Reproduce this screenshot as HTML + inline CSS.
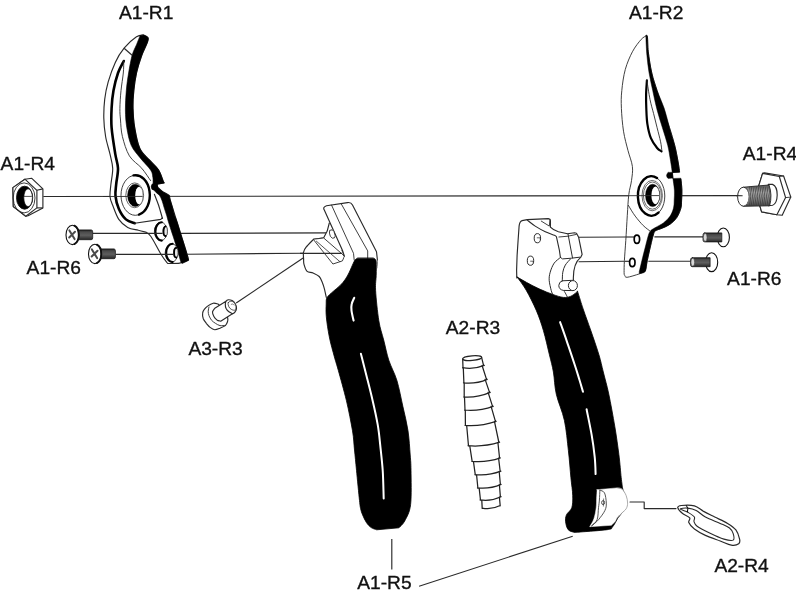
<!DOCTYPE html>
<html><head><meta charset="utf-8"><title>Pruner parts diagram</title>
<style>
html,body{margin:0;padding:0;background:#fff;}
body{width:796px;height:595px;overflow:hidden;position:relative;font-family:"Liberation Sans",sans-serif;}
svg{position:absolute;left:0;top:0;display:block;filter:blur(0.35px)}
#labels{filter:grayscale(1)}
text{font-family:"Liberation Sans",sans-serif;font-size:19.2px;fill:#111;stroke:#111;stroke-width:0.35px}
</style></head><body>
<svg width="796" height="595" viewBox="0 0 796 595">
<defs>
<linearGradient id="scr" x1="0" y1="0" x2="0" y2="1"><stop offset="0" stop-color="#1d1d1d"/><stop offset="0.2" stop-color="#4a4a4a"/><stop offset="0.55" stop-color="#5e5e5e"/><stop offset="0.85" stop-color="#3a3a3a"/><stop offset="1" stop-color="#1d1d1d"/></linearGradient>
<linearGradient id="thr" x1="0" y1="0" x2="0" y2="1"><stop offset="0" stop-color="#555"/><stop offset="0.35" stop-color="#bbb"/><stop offset="0.7" stop-color="#888"/><stop offset="1" stop-color="#444"/></linearGradient>
</defs>
<rect width="796" height="595" fill="#fff"/>
<g id="leaders">
<line x1="43.3" y1="196.5" x2="742.9" y2="195.6" stroke="#2a2a2a" stroke-width="1.15"/>
<line x1="181.0" y1="233.4" x2="329.3" y2="232.9" stroke="#2a2a2a" stroke-width="1.15"/>
<line x1="186.5" y1="254.2" x2="304.0" y2="253.3" stroke="#2a2a2a" stroke-width="1.15"/>
<line x1="236.2" y1="303.0" x2="303.5" y2="257.8" stroke="#2a2a2a" stroke-width="1.15"/>
<line x1="391.8" y1="538.9" x2="391.8" y2="569.5" stroke="#2a2a2a" stroke-width="1.15"/>
<line x1="419.1" y1="586.2" x2="572.7" y2="536.3" stroke="#2a2a2a" stroke-width="1.15"/>
<line x1="578.6" y1="237.2" x2="626.0" y2="237.0" stroke="#2a2a2a" stroke-width="1.15"/>
<line x1="654.4" y1="236.9" x2="703.0" y2="236.9" stroke="#2a2a2a" stroke-width="1.15"/>
<line x1="578.6" y1="261.7" x2="624.6" y2="261.3" stroke="#2a2a2a" stroke-width="1.15"/>
<line x1="648.3" y1="261.2" x2="690.6" y2="261.2" stroke="#2a2a2a" stroke-width="1.15"/>
<path d="M630 502L644.2 502L644.2 508.6L676 508.6" fill="none" stroke="#2a2a2a" stroke-width="1.15" stroke-linejoin="round" stroke-linecap="round" />
</g>
<g id="blade-left">
<path d="M143.6 35.0C142.4 35.3 139.8 34.6 136.5 36.8C133.2 39.0 127.6 43.9 124.1 48.2C120.6 52.5 117.9 56.8 115.3 62.4C112.7 68.0 110.0 75.6 108.2 81.8C106.4 88.0 105.4 93.4 104.7 99.4C104.0 105.4 103.7 111.8 103.8 118.0C103.9 124.2 104.6 130.5 105.6 136.5C106.6 142.5 108.8 148.8 110.0 154.1C111.2 159.4 112.5 163.3 112.7 168.3C112.9 173.3 111.4 179.5 110.9 184.2C110.5 188.9 109.7 193.0 110.0 196.5C110.3 200.0 111.2 201.5 112.7 205.3C114.2 209.1 116.3 215.7 118.8 219.4C121.3 223.1 124.5 225.6 127.7 227.4C131.0 229.2 135.2 229.5 138.3 230.3C141.4 231.1 144.7 231.8 146.0 232.1L146.0 232.1C146.8 232.9 148.5 232.9 151.1 236.7C153.7 240.5 158.5 250.2 161.3 254.7C164.1 259.2 166.6 262.0 167.7 263.5L167.7 263.5C169.7 263.4 176.3 263.6 179.7 263.1C183.1 262.6 186.7 260.8 188.1 260.3L188.1 260.3C188.0 259.7 189.2 261.8 187.7 256.5C186.2 251.2 181.8 237.7 178.9 228.3C176.0 218.9 171.9 205.8 170.3 200.3C168.7 194.8 170.4 196.9 169.1 195.5C167.8 194.1 164.5 192.9 162.7 191.7C160.9 190.4 159.3 189.0 158.4 188.0C157.5 187.0 157.2 185.9 157.0 185.5L157.0 185.5C157.2 185.2 157.0 184.4 158.2 184.0C159.4 183.6 163.2 183.1 164.2 182.9L164.2 182.9C164.0 182.5 163.9 182.8 163.0 180.6C162.1 178.4 160.7 173.2 158.6 170.0C156.5 166.8 153.7 164.7 150.6 161.2C147.5 157.7 142.7 154.4 140.0 148.8C137.3 143.2 135.9 134.5 134.7 127.7C133.5 121.0 133.2 114.5 133.0 108.3C132.8 102.1 133.2 96.5 133.8 90.6C134.4 84.7 135.2 78.9 136.5 73.0C137.8 67.1 140.0 60.3 141.8 55.3C143.6 50.3 146.1 45.9 147.1 43.0C148.1 40.1 148.6 39.0 148.0 37.7C147.4 36.4 144.3 35.5 143.6 35.0Z" fill="#fff" stroke="#2a2a2a" stroke-width="1.15" stroke-linejoin="round" stroke-linecap="round" />
<path d="M143.6 35.0C144.3 35.5 147.4 36.4 148.0 37.7C148.6 39.0 148.1 40.1 147.1 43.0C146.1 45.9 143.6 50.3 141.8 55.3C140.0 60.3 137.8 67.1 136.5 73.0C135.2 78.9 134.4 84.7 133.8 90.6C133.2 96.5 132.8 102.1 133.0 108.3C133.2 114.5 133.5 121.0 134.7 127.7C135.9 134.5 137.3 143.2 140.0 148.8C142.7 154.4 147.5 157.7 150.6 161.2C153.7 164.7 156.5 166.8 158.6 170.0C160.7 173.2 162.1 178.4 163.0 180.6C163.9 182.8 164.0 182.5 164.2 182.9L158.2 184.0C157.4 184.1 154.4 185.6 153.5 184.5C152.6 183.4 153.4 180.0 152.9 177.6C152.4 175.2 152.8 173.3 150.6 170.0C148.4 166.7 143.2 161.8 140.0 157.7C136.8 153.6 133.4 150.3 131.2 145.3C129.0 140.3 127.8 133.6 126.8 127.7C125.8 121.8 125.5 116.2 125.4 110.0C125.3 103.8 125.8 96.8 126.3 90.6C126.8 84.4 127.6 78.9 128.6 73.0C129.6 67.1 130.8 60.0 132.1 55.3C133.4 50.6 135.2 47.9 136.5 44.7C137.8 41.5 139.4 37.4 140.0 35.9Z" fill="#000" stroke="#000" stroke-width="0.6" stroke-linejoin="round" stroke-linecap="round" />
<ellipse cx="154.5" cy="186.7" rx="3.4" ry="3.5" fill="#000" stroke="#000" stroke-width="0.3"/>
<path d="M156.5 186.6C156.8 186.8 157.4 187.2 158.4 188.0C159.4 188.8 160.9 190.4 162.7 191.7C164.5 192.9 168.0 194.9 169.1 195.5L169.1 195.5C169.3 196.3 169.7 198.2 170.3 200.3C170.9 202.4 171.8 205.4 172.5 207.8C173.2 210.2 173.6 212.5 174.4 215.0C175.2 217.5 175.8 217.8 177.5 223.0C179.2 228.2 182.7 240.0 184.5 245.9C186.3 251.8 187.5 256.1 188.1 258.5C188.7 260.9 188.9 259.8 188.0 260.6C187.1 261.4 183.3 262.9 182.4 263.4L181.0 262.6C180.2 259.8 178.2 252.5 176.2 245.9C174.2 239.3 170.4 228.2 168.8 223.0C167.2 217.8 167.3 217.5 166.5 215.0C165.7 212.5 165.0 210.2 164.2 207.8C163.4 205.4 162.7 202.3 161.9 200.3C161.2 198.3 160.6 197.0 159.7 195.7C158.8 194.4 157.4 193.7 156.3 192.7C155.2 191.7 153.9 190.1 153.4 189.6Z" fill="#000" stroke="#000" stroke-width="0.6" stroke-linejoin="round" stroke-linecap="round" />
<line x1="124.1" y1="48.2" x2="132.1" y2="55.3" stroke="#2a2a2a" stroke-width="1.15"/>
<path d="M123.8 61.0C122.8 63.0 119.7 68.1 118.0 73.0C116.3 77.9 114.6 84.7 113.5 90.6C112.4 96.5 111.9 102.1 111.6 108.3C111.3 114.5 111.0 120.1 111.6 127.7C112.2 135.3 114.2 147.3 115.3 154.1C116.4 160.9 117.8 163.3 118.0 168.3C118.2 173.3 116.6 179.6 116.2 184.2C115.8 188.8 115.1 191.9 115.5 196.0C115.9 200.1 117.1 204.9 118.8 208.8C120.5 212.7 123.2 217.0 125.9 219.4C128.6 221.8 133.2 222.6 134.7 223.2" fill="none" stroke="#000" stroke-width="2.6" stroke-linejoin="round" stroke-linecap="round" />
<path d="M123.8 61.0C123.7 63.0 123.8 68.1 123.3 73.0C122.8 77.9 121.6 84.7 121.0 90.6C120.4 96.5 120.0 103.4 119.9 108.3C119.8 113.2 120.1 115.3 120.5 120.0C120.9 124.7 120.9 130.5 122.4 136.5C123.9 142.5 126.2 150.6 129.4 155.9C132.6 161.2 138.3 164.2 141.8 168.3C145.3 172.4 149.1 178.6 150.6 180.6" fill="none" stroke="#2a2a2a" stroke-width="0.9" stroke-linejoin="round" stroke-linecap="round" />
<path d="M134.7 223.2L160.8 219.4L162.2 217.8" fill="none" stroke="#2a2a2a" stroke-width="1.15" stroke-linejoin="round" stroke-linecap="round" />
<path d="M162.5 218.5C161.8 216.3 159.9 209.3 158.6 205.3C157.2 201.3 155.1 196.1 154.4 194.3" fill="none" stroke="#2a2a2a" stroke-width="1.15" stroke-linejoin="round" stroke-linecap="round" />
<ellipse cx="135.3" cy="195.3" rx="14.3" ry="20.0" fill="none" stroke="#2a2a2a" stroke-width="0.9"/>
<path d="M133.5 175.4 A14.3 20 0 0 1 139.0 214.6" fill="none" stroke="#000" stroke-width="2.4" stroke-linejoin="round" stroke-linecap="round" />
<ellipse cx="134.7" cy="195.3" rx="8.9" ry="12.4" fill="none" stroke="#555" stroke-width="0.9"/>
<ellipse cx="135.2" cy="195.3" rx="7.6" ry="11.1" fill="#000" stroke="#000" stroke-width="0.5"/>
<ellipse cx="139.0" cy="195.5" rx="3.8" ry="8.8" fill="#fff" stroke="none" stroke-width="0"/>
<line x1="103.0" y1="196.5" x2="142.6" y2="196.4" stroke="#2a2a2a" stroke-width="0.9"/>
<ellipse cx="160.8" cy="231.4" rx="6.4" ry="9.2" fill="#fff" stroke="#2a2a2a" stroke-width="0.9"/>
<path d="M161.8 222.2 A6.4 9.2 0 0 0 161.8 240.6" fill="none" stroke="#000" stroke-width="2.1" stroke-linejoin="round" stroke-linecap="round" />
<ellipse cx="165.2" cy="231.2" rx="2.2" ry="4.9" fill="#e8e8e8" stroke="#2a2a2a" stroke-width="0.7"/>
<path d="M165.6 226.4 A2.1 4.8 0 0 0 165.6 236.0" fill="none" stroke="#000" stroke-width="1.8" stroke-linejoin="round" stroke-linecap="round" />
<ellipse cx="171.6" cy="252.9" rx="6.4" ry="9.2" fill="#fff" stroke="#2a2a2a" stroke-width="0.9"/>
<path d="M172.6 243.7 A6.4 9.2 0 0 0 172.6 262.1" fill="none" stroke="#000" stroke-width="2.1" stroke-linejoin="round" stroke-linecap="round" />
<ellipse cx="175.8" cy="252.7" rx="2.2" ry="4.9" fill="#e8e8e8" stroke="#2a2a2a" stroke-width="0.7"/>
<path d="M176.2 247.9 A2.1 4.8 0 0 0 176.2 257.5" fill="none" stroke="#000" stroke-width="1.8" stroke-linejoin="round" stroke-linecap="round" />
</g>
<line x1="92.7" y1="233.4" x2="162.6" y2="233.4" stroke="#2a2a2a" stroke-width="1.15"/>
<line x1="115.7" y1="254.3" x2="173.0" y2="254.3" stroke="#2a2a2a" stroke-width="1.15"/>
<g id="nut">
<path d="M24.9 179.2L31.8 178.3L42.9 188.9L42.9 207.9L28.1 215.7L25.8 216.2L13.3 206.5L12.9 187.6Z" fill="#fff" stroke="#2a2a2a" stroke-width="1.15" stroke-linejoin="round" stroke-linecap="round" />
<path d="M12.9 187.6L24.9 179.2L36.9 190.3L36.9 207.9L25.8 216.2L13.3 206.5Z" fill="#fff" stroke="#2a2a2a" stroke-width="1.15" stroke-linejoin="round" stroke-linecap="round" />
<line x1="36.9" y1="190.3" x2="42.9" y2="188.9" stroke="#2a2a2a" stroke-width="1.15"/>
<line x1="36.9" y1="207.9" x2="42.9" y2="207.9" stroke="#2a2a2a" stroke-width="1.15"/>
<ellipse cx="24.1" cy="197.9" rx="10.9" ry="15.0" fill="none" stroke="#2a2a2a" stroke-width="0.9"/>
<ellipse cx="24.6" cy="197.7" rx="8.1" ry="11.5" fill="#000" stroke="#111" stroke-width="0.9"/>
<ellipse cx="28.1" cy="197.7" rx="4.3" ry="8.9" fill="#fff" stroke="#111" stroke-width="0.7"/>
<line x1="23.9" y1="196.4" x2="31.8" y2="196.4" stroke="#2a2a2a" stroke-width="0.8"/>
</g>
<g>
<path d="M76.4 229.9L91.2 229.9Q92.7 229.9 92.7 231.9L92.7 237.9Q92.7 239.7 91.2 239.7L76.4 239.7Z" fill="url(#scr)" stroke="#1c1c1c" stroke-width="0.8" stroke-linejoin="round" stroke-linecap="round" />
<ellipse cx="72.4" cy="234.9" rx="6.4" ry="9.7" fill="#fff" stroke="#111" stroke-width="1.1"/>
<path d="M74.4 225.7 A6.4 9.7 0 0 1 74.4 244.1" fill="none" stroke="#111" stroke-width="1.9" stroke-linejoin="round" stroke-linecap="round" />
<path d="M69.4 230.4L74.6 239.1M75.0 231.7L69.2 237.5" fill="none" stroke="#4a4a4a" stroke-width="2.0" stroke-linejoin="round" stroke-linecap="round" />
</g>
<g>
<path d="M98.9 248.9L113.9 248.9Q115.4 248.9 115.4 250.9L115.4 256.9Q115.4 258.7 113.9 258.7L98.9 258.7Z" fill="url(#scr)" stroke="#1c1c1c" stroke-width="0.8" stroke-linejoin="round" stroke-linecap="round" />
<ellipse cx="94.9" cy="253.9" rx="6.4" ry="9.7" fill="#fff" stroke="#111" stroke-width="1.1"/>
<path d="M96.9 244.7 A6.4 9.7 0 0 1 96.9 263.1" fill="none" stroke="#111" stroke-width="1.9" stroke-linejoin="round" stroke-linecap="round" />
<path d="M91.9 249.4L97.1 258.1M97.5 250.7L91.7 256.5" fill="none" stroke="#4a4a4a" stroke-width="2.0" stroke-linejoin="round" stroke-linecap="round" />
</g>
<g id="bushing">
<path d="M213.2 303.2C211.5 303.6 209.4 304.8 207.9 305.9C206.3 307.0 205.0 308.4 204.1 309.7C203.2 310.9 202.7 311.9 202.6 313.4C202.4 315.0 202.7 317.1 203.3 318.7C204.0 320.4 205.2 321.8 206.3 323.3C207.5 324.7 208.7 326.4 210.1 327.4C211.5 328.5 213.0 329.6 214.7 329.7C216.3 329.8 218.2 328.9 220.0 328.2C221.7 327.5 224.0 326.6 225.3 325.6C226.5 324.5 227.1 323.0 227.5 321.8C227.9 320.5 228.1 319.5 227.7 318.0C227.3 316.5 226.7 314.8 225.3 312.7C223.8 310.5 220.5 306.6 219.2 305.1C217.9 303.7 218.7 304.3 217.7 304.0C216.7 303.7 214.8 302.9 213.2 303.2Z" fill="#fff" stroke="#2a2a2a" stroke-width="1.15" stroke-linejoin="round" stroke-linecap="round" />
<path d="M209.0 307.0C208.9 307.7 208.2 309.7 208.2 311.2C208.2 312.6 208.4 314.2 209.0 315.7C209.6 317.2 210.6 319.0 211.6 320.3C212.7 321.5 214.0 322.4 215.4 323.3C216.8 324.2 218.3 325.2 220.0 325.6C221.6 325.9 224.4 325.4 225.3 325.4" fill="none" stroke="#2a2a2a" stroke-width="0.9" stroke-linejoin="round" stroke-linecap="round" />
<path d="M214.8 308.2C214.4 308.8 212.7 310.5 212.5 311.9C212.4 313.3 213.2 315.2 213.9 316.5C214.6 317.8 215.8 319.1 216.9 319.9C218.1 320.7 220.1 321.0 220.7 321.2L232.8 313.6L226.0 301.3Z" fill="#fff" stroke="#2a2a2a" stroke-width="1.15" stroke-linejoin="round" stroke-linecap="round" />
<path d="M226.0 301.3C226.5 300.6 227.3 300.0 228.3 299.8C229.3 299.7 230.9 300.0 232.1 300.6C233.2 301.2 234.4 302.4 235.1 303.6C235.8 304.9 236.5 306.8 236.5 308.2C236.5 309.5 235.7 311.0 235.1 311.9C234.5 312.8 233.5 313.4 232.8 313.6C232.2 313.8 232.1 313.5 231.3 313.1C230.6 312.7 229.2 312.0 228.3 311.2C227.4 310.4 226.5 309.3 226.0 308.2C225.5 307.0 225.3 305.5 225.3 304.4C225.3 303.2 225.5 302.1 226.0 301.3Z" fill="#fff" stroke="#2a2a2a" stroke-width="1.15" stroke-linejoin="round" stroke-linecap="round" />
<path d="M228.3 302.5C228.7 301.9 229.7 301.4 230.6 301.3C231.4 301.3 232.7 301.3 233.6 302.1C234.5 302.9 235.5 304.6 235.8 305.9C236.2 307.1 236.0 309.0 235.5 309.7C235.0 310.4 233.8 310.3 232.8 310.0C231.9 309.8 230.6 309.0 229.8 308.2C229.0 307.3 228.5 306.1 228.3 305.1C228.0 304.2 227.9 303.1 228.3 302.5Z" fill="#fff" stroke="#2a2a2a" stroke-width="0.8" stroke-linejoin="round" stroke-linecap="round" />
<path d="M231.3 304.4C231.6 304.3 232.4 303.9 232.8 304.0C233.3 304.1 233.8 304.9 234.0 305.1" fill="none" stroke="#555" stroke-width="0.7" stroke-linejoin="round" stroke-linecap="round" />
</g>
<g id="handle-left">
<path d="M329.3 223L327.2 231.1L323.7 237.7L313.6 239.2L313.6 239.2C312.4 240.5 307.8 245.0 306.1 247.2C304.4 249.4 303.9 250.4 303.5 252.3C303.1 254.2 303.5 256.9 303.6 258.9C303.7 260.9 303.4 262.3 304.0 264.4C304.6 266.5 305.6 270.0 307.1 271.4C308.6 272.8 311.1 272.1 313.1 273.0C315.1 273.9 317.6 274.8 319.2 276.5C320.8 278.2 321.6 280.9 322.5 283.0C323.4 285.1 323.8 286.5 324.4 288.9C325.0 291.3 326.0 296.0 326.3 297.4L358 259L345 259L332 228Z" fill="#fff" stroke="none" stroke-width="0" stroke-linejoin="round" stroke-linecap="round" />
<path d="M329.3 223L327.2 231.1L323.7 237.7L313.6 239.2L313.6 239.2C312.4 240.5 307.8 245.0 306.1 247.2C304.4 249.4 303.9 250.4 303.5 252.3C303.1 254.2 303.5 256.9 303.6 258.9C303.7 260.9 303.4 262.3 304.0 264.4C304.6 266.5 305.6 270.0 307.1 271.4C308.6 272.8 311.1 272.1 313.1 273.0C315.1 273.9 317.6 274.8 319.2 276.5C320.8 278.2 321.6 280.9 322.5 283.0C323.4 285.1 323.8 286.5 324.4 288.9C325.0 291.3 326.0 296.0 326.3 297.4" fill="none" stroke="#2a2a2a" stroke-width="1.15" stroke-linejoin="round" stroke-linecap="round" />
<path d="M313.6 239.2L323.7 238L341.9 253.8L344.4 256.3L342.4 260.9L333.3 263.9Z" fill="#fff" stroke="#2a2a2a" stroke-width="0.9" stroke-linejoin="round" stroke-linecap="round" />
<path d="M316.4 241.2L339.8 261.6" fill="none" stroke="#2a2a2a" stroke-width="0.8" stroke-linejoin="round" stroke-linecap="round" />
<path d="M341.9 250.3L344.4 256.3" fill="none" stroke="#2a2a2a" stroke-width="0.8" stroke-linejoin="round" stroke-linecap="round" />
<path d="M326.5 205.8Q322.5 207.2 324.3 210L342.4 250.3L344.4 256.3L344.9 259.5L377.4 259.7L376.5 251.8L352.5 205Q351 202 347.5 202.6Z" fill="#fff" stroke="none" stroke-width="0" stroke-linejoin="round" stroke-linecap="round" />
<path d="M344.4 256.3L342.4 250.3L324.3 210Q322.5 207.2 326.5 205.8L347.5 202.6Q351 202 352.5 205L376.5 251.8L377.4 259.7" fill="none" stroke="#2a2a2a" stroke-width="1.15" stroke-linejoin="round" stroke-linecap="round" />
<path d="M331.5 205L353.5 253.3L354.2 260" fill="none" stroke="#2a2a2a" stroke-width="0.9" stroke-linejoin="round" stroke-linecap="round" />
<path d="M341.2 203.8L367.7 250.9L367.7 258.5" fill="none" stroke="#2a2a2a" stroke-width="0.9" stroke-linejoin="round" stroke-linecap="round" />
<path d="M330.0 230.2Q332.6 228.6 334.0 231.6L335.3 236Q335.0 238.6 332.3 238.2Q329.8 237 329.5 233.5Z" fill="#fff" stroke="#2a2a2a" stroke-width="0.9" stroke-linejoin="round" stroke-linecap="round" />
<line x1="300.0" y1="253.3" x2="341.9" y2="253.3" stroke="#2a2a2a" stroke-width="1.15"/>
<path d="M357.4 258.2C357.1 258.4 356.1 258.8 355.4 259.6C354.7 260.4 354.3 261.1 353.3 263.2C352.3 265.3 350.6 269.5 349.3 272.2C348.0 274.9 346.8 277.1 345.3 279.3C343.8 281.5 342.2 283.4 340.2 285.4C338.2 287.4 335.4 289.4 333.2 291.4C331.0 293.4 328.3 295.4 327.1 297.5C325.9 299.6 326.3 300.8 326.2 304.0C326.1 307.2 325.8 311.1 326.3 316.6C326.8 322.1 328.0 330.1 329.3 336.8C330.6 343.5 332.9 351.3 334.4 356.9C335.9 362.5 336.3 363.0 338.3 370.3C340.3 377.6 344.0 390.4 346.4 400.5C348.8 410.6 351.1 422.6 352.5 430.8C353.9 439.1 353.8 443.4 354.5 450.0C355.2 456.6 355.7 461.9 356.5 470.3C357.3 478.7 358.8 494.1 359.5 500.5C360.2 506.9 360.1 506.2 360.6 508.6C361.1 511.0 361.6 512.6 362.6 514.9C363.6 517.2 365.0 520.4 366.4 522.5C367.8 524.6 369.5 526.4 371.2 527.6C372.9 528.8 375.8 529.4 376.7 529.8L376.7 529.8L398.9 527.8L398.9 527.8C399.9 526.6 402.9 524.6 404.9 520.7C406.8 516.8 409.6 513.0 410.6 504.6C411.6 496.2 411.1 478.6 411.0 470.3C410.9 462.0 410.7 461.6 410.2 455.0C409.7 448.4 409.2 438.9 408.0 430.8C406.8 422.7 404.8 415.0 402.9 406.6C401.0 398.2 399.2 388.1 396.9 380.4C394.5 372.7 391.0 366.9 388.8 360.2C386.6 353.5 385.4 346.6 383.7 340.0C382.0 333.4 380.1 328.9 378.8 320.6C377.5 312.3 376.0 297.9 375.6 290.4C375.2 282.8 376.1 280.0 376.2 275.3C376.3 270.6 376.4 264.7 376.2 262.0C376.0 259.3 375.6 259.8 375.2 259.2C374.8 258.6 373.8 258.4 373.5 258.2Z" fill="#000" stroke="#000" stroke-width="0.8" stroke-linejoin="round" stroke-linecap="round" />
<path d="M377.4 259.7C377.4 260.4 377.4 262.6 377.3 264.0C377.2 265.4 377.0 267.3 376.9 268.0" fill="none" stroke="#444" stroke-width="0.8" stroke-linejoin="round" stroke-linecap="round" />
<path d="M354.2 297.8C353.8 298.8 352.1 301.9 351.7 304.0C351.2 306.1 351.2 307.7 351.5 310.5C351.8 313.3 353.2 318.9 353.6 320.6" fill="none" stroke="#fff" stroke-width="2.1" stroke-linejoin="round" stroke-linecap="round" />
<path d="M360.9 353.7C361.8 357.5 364.7 368.5 366.6 376.3C368.6 384.1 370.8 392.4 372.6 400.5C374.5 408.6 376.4 417.3 377.7 424.7C379.0 432.1 379.4 437.3 380.2 444.9C381.0 452.5 382.1 461.4 382.7 470.3C383.3 479.2 383.5 493.8 383.7 498.5" fill="none" stroke="#fff" stroke-width="2.0" stroke-linejoin="round" stroke-linecap="round" />
</g>
<g id="spring">
<path d="M462.7 358.9L463.0 368.0L463.9 383.1L464.2 397.2L465.0 410.3L465.4 425.6L468.5 446.0L472.2 461.6L475.3 474.9L477.9 488.2L480.5 500.2L482.2 508.4Q491.5 509.9 500.2 505.8L500.4 497.0L500.4 484.7L500.2 471.5L499.6 458.2L498.9 442.5L495.5 421.6L492.6 406.6L489.6 392.6L486.6 379.6L483.6 365.7L481.6 357.4Z" fill="#fff" stroke="none" stroke-width="0" stroke-linejoin="round" stroke-linecap="round" />
<path d="M462.7 358.9L463.0 368.0L462.6 367.7Q473.7 369.7 484.3 365.4L483.6 365.7L481.6 357.4" fill="none" stroke="#222" stroke-width="1.25" stroke-linejoin="round" stroke-linecap="round" />
<path d="M463.3 368.0L463.9 383.1L463.5 382.8Q475.7 384.2 487.3 379.3L486.6 379.6L482.1 365.5" fill="none" stroke="#222" stroke-width="1.25" stroke-linejoin="round" stroke-linecap="round" />
<path d="M464.2 383.1L464.2 397.2L463.8 396.9Q477.3 397.8 490.3 392.3L489.6 392.6L485.1 379.4" fill="none" stroke="#222" stroke-width="1.25" stroke-linejoin="round" stroke-linecap="round" />
<path d="M464.5 397.2L465.0 410.3L464.6 410.0Q479.2 411.3 493.3 406.3L492.6 406.6L488.1 392.4" fill="none" stroke="#222" stroke-width="1.25" stroke-linejoin="round" stroke-linecap="round" />
<path d="M465.3 410.3L465.4 425.6L465.0 425.3Q480.9 426.5 496.2 421.3L495.5 421.6L491.1 406.4" fill="none" stroke="#222" stroke-width="1.25" stroke-linejoin="round" stroke-linecap="round" />
<path d="M466.7 425.8L468.5 446.0L468.1 445.7Q484.1 447.1 499.6 442.2L498.9 442.5L494.5 421.6" fill="none" stroke="#222" stroke-width="1.25" stroke-linejoin="round" stroke-linecap="round" />
<path d="M469.8 446.2L472.2 461.6L471.8 461.3Q486.3 462.8 500.3 457.9L499.6 458.2L497.9 442.5" fill="none" stroke="#222" stroke-width="1.25" stroke-linejoin="round" stroke-linecap="round" />
<path d="M473.5 461.8L475.3 474.9L474.9 474.6Q488.2 476.1 500.9 471.2L500.2 471.5L498.6 458.2" fill="none" stroke="#222" stroke-width="1.25" stroke-linejoin="round" stroke-linecap="round" />
<path d="M476.6 475.1L477.9 488.2L477.5 487.9Q489.6 489.3 501.1 484.4L500.4 484.7L499.2 471.5" fill="none" stroke="#222" stroke-width="1.25" stroke-linejoin="round" stroke-linecap="round" />
<path d="M479.2 488.4L480.5 500.2L480.1 499.9Q490.9 501.5 501.1 496.7L500.4 497.0L499.4 484.7" fill="none" stroke="#222" stroke-width="1.25" stroke-linejoin="round" stroke-linecap="round" />
<path d="M481.8 500.4L482.2 508.4L482.2 508.1Q491.5 510.0 500.2 505.5L500.2 505.8L499.4 497.0" fill="none" stroke="#222" stroke-width="1.25" stroke-linejoin="round" stroke-linecap="round" />
<ellipse cx="472.2" cy="358.1" rx="9.5" ry="2.3" fill="#fff" stroke="#222" stroke-width="1.25" transform="rotate(-4.5 472.2 358.1)"/>
</g>
<g id="blade-right">
<path d="M646.1 35.9C645.3 36.5 643.5 36.8 641.2 39.4C638.9 42.0 635.0 46.8 632.4 51.8C629.8 56.8 627.1 62.9 625.3 69.4C623.5 75.9 622.4 84.1 621.8 90.6C621.1 97.1 621.1 101.5 621.4 108.3C621.7 115.1 622.4 124.1 623.5 131.2C624.6 138.2 626.5 144.7 628.0 150.6C629.5 156.5 631.8 161.5 632.4 166.5C633.0 171.5 632.1 175.9 631.5 180.6C630.9 185.3 629.5 188.7 628.8 194.5C628.1 200.3 627.8 207.7 627.3 215.3C626.8 222.9 626.3 232.8 625.8 240.3C625.3 247.8 624.7 255.1 624.4 260.5C624.1 265.9 624.1 270.2 624.1 272.6C624.1 275.1 624.5 274.8 624.6 275.2L624.6 275.2C625.0 275.6 624.7 277.5 627.1 277.3C629.5 277.1 636.2 274.9 639.2 273.9C642.2 272.9 644.3 271.7 645.3 271.3L645.3 271.3C645.6 269.5 646.4 264.8 647.3 260.5C648.2 256.2 649.6 249.9 650.6 245.7C651.6 241.4 652.5 237.5 653.3 235.0C654.1 232.5 653.8 232.0 655.3 230.9C656.8 229.8 659.6 229.3 662.1 228.2C664.6 227.1 667.7 226.0 670.1 224.2C672.5 222.4 675.0 220.2 676.8 217.5C678.6 214.8 680.1 211.0 680.9 208.1C681.7 205.2 681.4 203.0 681.6 200.0C681.8 197.0 682.0 193.5 681.9 190.0C681.8 186.5 681.1 180.8 680.9 178.9L680.9 178.9L673.0 179.0L673.0 179.0L672.3 172.6L672.3 172.6L679.5 171.8L679.5 171.8C679.3 170.3 679.1 167.4 678.3 163.0C677.5 158.6 676.2 151.2 674.7 145.3C673.2 139.4 671.4 133.6 669.5 127.7C667.6 121.8 665.4 116.2 663.3 110.0C661.2 103.8 659.0 96.8 657.1 90.6C655.2 84.4 653.3 79.5 651.8 73.0C650.3 66.5 649.0 57.8 648.3 51.8C647.6 45.8 647.8 39.4 647.4 36.8C647.0 34.1 646.3 36.0 646.1 35.9Z" fill="#fff" stroke="#2a2a2a" stroke-width="0.9" stroke-linejoin="round" stroke-linecap="round" />
<path d="M646.1 35.9C646.3 36.0 647.0 34.1 647.4 36.8C647.8 39.4 647.6 45.8 648.3 51.8C649.0 57.8 650.3 66.5 651.8 73.0C653.3 79.5 655.0 84.7 657.1 90.6C659.2 96.5 662.1 102.1 664.2 108.3C666.3 114.5 667.8 121.5 669.5 127.7C671.2 133.9 673.2 139.4 674.7 145.3C676.2 151.2 677.5 158.5 678.3 163.0C679.1 167.5 679.5 170.8 679.7 172.3L672.3 172.6C672.0 170.4 671.1 163.9 670.3 159.4C669.5 154.9 669.0 150.6 667.7 145.3C666.4 140.0 664.2 133.6 662.4 127.7C660.6 121.8 658.7 116.2 657.1 110.0C655.5 103.8 654.0 96.8 652.7 90.6C651.4 84.4 650.1 78.9 649.1 73.0C648.1 67.1 647.4 60.8 646.9 55.3C646.4 49.8 646.1 42.5 646.0 40.0Z" fill="#000" stroke="#000" stroke-width="0.5" stroke-linejoin="round" stroke-linecap="round" />
<path d="M668.2 172.4L672.5 172.2L673 178.0L668.2 178.6Q664.8 175.5 668.2 172.4Z" fill="#000" stroke="#000" stroke-width="0.4" stroke-linejoin="round" stroke-linecap="round" />
<path d="M680.9 178.6C681.1 180.5 681.8 186.4 681.9 190.0C682.0 193.6 681.8 197.0 681.6 200.0C681.4 203.0 681.7 205.2 680.9 208.1C680.1 211.0 678.6 214.8 676.8 217.5C675.0 220.2 672.5 222.4 670.1 224.2C667.7 226.0 664.6 227.1 662.1 228.2C659.6 229.3 656.8 229.8 655.3 230.9C653.8 232.0 654.1 232.5 653.3 235.0C652.5 237.5 651.6 241.4 650.6 245.7C649.6 249.9 648.2 256.2 647.3 260.5C646.4 264.8 646.6 269.1 645.3 271.3C644.0 273.5 640.4 273.2 639.4 273.6L639.2 271.9C639.7 270.0 640.9 264.6 641.9 260.5C642.9 256.4 644.3 251.0 645.3 247.1C646.3 243.2 647.1 239.7 647.9 237.0C648.7 234.3 649.0 232.8 650.2 231.2C651.4 229.6 653.1 229.0 655.3 227.6C657.5 226.2 660.9 224.8 663.4 222.9C665.9 221.0 668.4 218.6 670.1 216.1C671.8 213.6 672.8 210.8 673.5 208.1C674.2 205.4 674.1 203.0 674.2 200.0C674.4 197.0 674.6 193.5 674.4 190.0C674.2 186.5 673.2 180.8 673.0 178.9Z" fill="#000" stroke="#000" stroke-width="0.5" stroke-linejoin="round" stroke-linecap="round" />
<path d="M646.9 80.4C646.8 82.7 646.2 89.6 646.1 94.2C646.0 98.8 646.1 103.3 646.3 108.3C646.5 113.3 646.6 119.1 647.4 124.1C648.2 129.1 649.3 134.2 650.9 138.2C652.5 142.2 655.3 145.8 657.1 148.0C658.9 150.2 660.8 150.8 661.5 151.3" fill="none" stroke="#000" stroke-width="2.2" stroke-linejoin="round" stroke-linecap="round" />
<path d="M646.9 80.4C647.4 83.6 648.9 93.9 650.0 99.4C651.1 104.9 652.4 108.9 653.6 113.6C654.8 118.3 655.9 123.0 657.1 127.7C658.3 132.4 659.8 138.0 660.6 141.8C661.4 145.6 661.6 149.1 661.8 150.5" fill="none" stroke="#2a2a2a" stroke-width="0.9" stroke-linejoin="round" stroke-linecap="round" />
<path d="M628.4 205.4C629.5 207.2 632.7 212.8 635.2 216.1C637.7 219.4 640.7 223.0 643.2 225.5C645.7 228.0 649.0 230.2 650.2 231.2" fill="none" stroke="#2a2a2a" stroke-width="0.9" stroke-linejoin="round" stroke-linecap="round" />
<ellipse cx="651.4" cy="196.0" rx="13.4" ry="19.8" fill="#fff" stroke="#2a2a2a" stroke-width="0.9"/>
<path d="M657 178 A13.4 19.8 0 1 0 658.5 212.6" fill="none" stroke="#000" stroke-width="2.4" stroke-linejoin="round" stroke-linecap="round" />
<ellipse cx="652.2" cy="195.6" rx="10.2" ry="15.2" fill="none" stroke="#2a2a2a" stroke-width="0.7"/>
<ellipse cx="652.4" cy="195.6" rx="9.0" ry="13.6" fill="none" stroke="#2a2a2a" stroke-width="0.7"/>
<ellipse cx="652.7" cy="195.4" rx="7.2" ry="11.2" fill="#000" stroke="#000" stroke-width="0.5"/>
<ellipse cx="655.4" cy="195.4" rx="4.0" ry="8.8" fill="#fff" stroke="none" stroke-width="0"/>
<line x1="628.5" y1="195.7" x2="659.2" y2="195.6" stroke="#2a2a2a" stroke-width="0.9"/>
<line x1="626.0" y1="237.0" x2="634.0" y2="237.0" stroke="#2a2a2a" stroke-width="1.15"/>
<line x1="624.6" y1="261.3" x2="629.6" y2="261.3" stroke="#2a2a2a" stroke-width="1.15"/>
<ellipse cx="636.9" cy="239.2" rx="2.7" ry="4.1" fill="#fff" stroke="#000" stroke-width="1.7"/>
<ellipse cx="632.3" cy="262.5" rx="2.7" ry="4.1" fill="#fff" stroke="#000" stroke-width="1.7"/>
</g>
<g id="bolt">
<path d="M762.6 173.4L764.5 172.9L783.6 176.0L790.8 197.1L782.2 215.3L776.9 214.8L761.6 211.9L756.3 193.7Z" fill="#fff" stroke="#2a2a2a" stroke-width="1.15" stroke-linejoin="round" stroke-linecap="round" />
<path d="M762.6 173.4L779.3 176.5L785.6 197.6L776.9 214.8L761.6 211.9L756.3 193.7Z" fill="#fff" stroke="#2a2a2a" stroke-width="1.15" stroke-linejoin="round" stroke-linecap="round" />
<path d="M779.3 176.5L783.6 176.0" fill="none" stroke="#2a2a2a" stroke-width="0.9" stroke-linejoin="round" stroke-linecap="round" />
<path d="M785.6 197.6L790.8 197.1" fill="none" stroke="#2a2a2a" stroke-width="0.9" stroke-linejoin="round" stroke-linecap="round" />
<path d="M768.3 184.2L772.5 184.4Q777.3 186.5 777.2 195Q777 203.5 772.6 205.3L768.5 205.6Z" fill="#fff" stroke="#2a2a2a" stroke-width="1.15" stroke-linejoin="round" stroke-linecap="round" />
<path d="M743.6 187.2L769 185.0Q772.6 195 769.6 205.8L743.6 206.3Z" fill="url(#thr)" stroke="#222" stroke-width="0.9" stroke-linejoin="round" stroke-linecap="round" />
<path d="M749.5 186.6Q752.1 196.0 749.5 206.0" stroke="#3a3a3a" stroke-width="0.75" fill="none"/>
<path d="M751.2 186.6Q753.9 196.0 751.2 206.0" stroke="#3a3a3a" stroke-width="0.75" fill="none"/>
<path d="M753.0 186.6Q755.6 196.0 753.0 206.0" stroke="#3a3a3a" stroke-width="0.75" fill="none"/>
<path d="M754.8 186.6Q757.4 196.0 754.8 206.0" stroke="#3a3a3a" stroke-width="0.75" fill="none"/>
<path d="M756.5 186.6Q759.1 196.0 756.5 206.0" stroke="#3a3a3a" stroke-width="0.75" fill="none"/>
<path d="M758.2 186.6Q760.9 196.0 758.2 206.0" stroke="#3a3a3a" stroke-width="0.75" fill="none"/>
<path d="M760.0 186.6Q762.6 196.0 760.0 206.0" stroke="#3a3a3a" stroke-width="0.75" fill="none"/>
<path d="M761.8 186.6Q764.4 196.0 761.8 206.0" stroke="#3a3a3a" stroke-width="0.75" fill="none"/>
<path d="M763.5 186.6Q766.1 196.0 763.5 206.0" stroke="#3a3a3a" stroke-width="0.75" fill="none"/>
<path d="M765.2 186.6Q767.9 196.0 765.2 206.0" stroke="#3a3a3a" stroke-width="0.75" fill="none"/>
<path d="M767.0 186.6Q769.6 196.0 767.0 206.0" stroke="#3a3a3a" stroke-width="0.75" fill="none"/>
<path d="M768.8 186.6Q771.4 196.0 768.8 206.0" stroke="#3a3a3a" stroke-width="0.75" fill="none"/>
<ellipse cx="743.4" cy="196.7" rx="5.8" ry="9.5" fill="#fff" stroke="#2a2a2a" stroke-width="1.0"/>
<path d="M745.5 188.5 A4.6 8.4 0 0 1 745.5 205" fill="none" stroke="#999" stroke-width="0.6" stroke-linejoin="round" stroke-linecap="round" />
<line x1="736.0" y1="195.6" x2="742.6" y2="195.7" stroke="#2a2a2a" stroke-width="1.15"/>
</g>
<g>
<ellipse cx="723.3" cy="237.4" rx="6.1" ry="9.4" fill="#fff" stroke="#111" stroke-width="1.1"/>
<path d="M704.8 232.9L721.8 232.9L721.8 241.9L704.8 241.9Q703.0 241.9 703.0 240.1L703.0 234.7Q703.0 232.9 704.8 232.9Z" fill="url(#scr)" stroke="#1c1c1c" stroke-width="0.8" stroke-linejoin="round" stroke-linecap="round" />
<ellipse cx="705.2" cy="237.4" rx="1.9" ry="3.9" fill="#d8d8d8" stroke="#333" stroke-width="0.6"/>
</g>
<g>
<ellipse cx="711.6" cy="262.2" rx="6.1" ry="9.4" fill="#fff" stroke="#111" stroke-width="1.1"/>
<path d="M692.4 257.7L710.1 257.7L710.1 266.7L692.4 266.7Q690.6 266.7 690.6 264.9L690.6 259.5Q690.6 257.7 692.4 257.7Z" fill="url(#scr)" stroke="#1c1c1c" stroke-width="0.8" stroke-linejoin="round" stroke-linecap="round" />
<ellipse cx="692.8" cy="262.2" rx="1.9" ry="3.9" fill="#d8d8d8" stroke="#333" stroke-width="0.6"/>
</g>
<g id="handle-right">
<path d="M516.8 278L516.6 270L517.1 255.4L518.1 240.3L519.1 226.1Q519.6 221.4 522.1 220.6L527.2 219.6L548.3 218.6Q550.4 218.8 550.4 220.6L550.4 227.2C553 230 556 231 558.4 231.7L567.5 233.7L574.6 232.7Q576.6 232.8 577.1 234.2L578.6 237.2L582.1 254.4L580.6 257.4C575 262 573 270 573.4 280.3L578 292L568 301L550 298L530 290L517 281Z" fill="#fff" stroke="none" stroke-width="0" stroke-linejoin="round" stroke-linecap="round" />
<path d="M516.8 278L516.6 270L517.1 255.4L518.1 240.3L519.1 226.1Q519.6 221.4 522.1 220.6L527.2 219.6L548.3 218.6Q550.4 218.8 550.4 220.6L550.4 227.2C553 230 556 231 558.4 231.7L567.5 233.7L574.6 232.7Q576.6 232.8 577.1 234.2L578.6 237.2L582.1 254.4L580.6 257.4C575 262 573 270 573.4 280.3" fill="none" stroke="#2a2a2a" stroke-width="1.15" stroke-linejoin="round" stroke-linecap="round" />
<path d="M527.2 220.1C528.5 221.1 532.2 224.2 535.2 226.1C538.2 228.0 542.1 230.2 545.3 231.7C548.5 233.2 552.5 234.4 554.4 235.2C556.2 236.0 556.1 236.4 556.4 236.7L559.4 250.4L560.4 257.4" fill="none" stroke="#2a2a2a" stroke-width="1.1" stroke-linejoin="round" stroke-linecap="round" />
<path d="M541.3 221.1L549.3 226.1L550.0 219.6" fill="none" stroke="#2a2a2a" stroke-width="0.9" stroke-linejoin="round" stroke-linecap="round" />
<path d="M558.9 237L568 236.2L576.4 234.4" fill="none" stroke="#2a2a2a" stroke-width="0.9" stroke-linejoin="round" stroke-linecap="round" />
<path d="M568 234.0L572.5 257.9" fill="none" stroke="#2a2a2a" stroke-width="1.0" stroke-linejoin="round" stroke-linecap="round" />
<path d="M560.4 257.4L562.5 258.9L571.5 258.2L579.6 257.2" fill="none" stroke="#2a2a2a" stroke-width="1.0" stroke-linejoin="round" stroke-linecap="round" />
<path d="M560.3 257.6C559.3 258.5 555.9 260.7 554.2 263.1C552.5 265.5 551.0 269.3 550.2 272.2C549.4 275.1 549.0 277.3 549.2 280.3C549.4 283.3 550.6 288.0 551.2 290.4C551.8 292.8 552.5 293.7 552.7 294.4" fill="none" stroke="#2a2a2a" stroke-width="1.0" stroke-linejoin="round" stroke-linecap="round" />
<path d="M570.4 259.1C569.5 260.1 566.6 262.9 565.3 265.1C564.0 267.3 563.3 269.6 562.8 272.2C562.3 274.8 562.4 279.2 562.3 280.6" fill="none" stroke="#2a2a2a" stroke-width="1.0" stroke-linejoin="round" stroke-linecap="round" />
<path d="M563.8 290.6C564.0 291.0 564.7 291.9 565.3 293.0C565.9 294.1 567.0 296.2 567.3 296.9" fill="none" stroke="#2a2a2a" stroke-width="0.9" stroke-linejoin="round" stroke-linecap="round" />
<path d="M562.3 280.8L573.0 280.3L573.0 290.6L563.3 290.4Q558.8 289.5 558.8 285.4Q558.9 281.8 562.3 280.8Z" fill="#fff" stroke="#2a2a2a" stroke-width="1.0" stroke-linejoin="round" stroke-linecap="round" />
<ellipse cx="572.9" cy="285.6" rx="4.5" ry="5.0" fill="#fff" stroke="#2a2a2a" stroke-width="1.0"/>
<ellipse cx="537.4" cy="238.2" rx="3.2" ry="4.6" fill="none" stroke="#2a2a2a" stroke-width="1.0"/>
<path d="M537.2 237.8L540.2 237.8L540.2 239.2" fill="none" stroke="#2a2a2a" stroke-width="0.7" stroke-linejoin="round" stroke-linecap="round" />
<ellipse cx="530.5" cy="260.7" rx="3.2" ry="4.6" fill="none" stroke="#2a2a2a" stroke-width="1.0"/>
<path d="M530.6 261.2L533.2 261.2L533.2 262.4" fill="none" stroke="#2a2a2a" stroke-width="0.7" stroke-linejoin="round" stroke-linecap="round" />
<path d="M517.2 277.1C518.7 279.3 523.0 284.6 526.2 290.2C529.4 295.8 533.4 303.7 536.3 310.4C539.2 317.1 541.2 323.1 543.4 330.5C545.6 337.9 547.7 347.8 549.4 354.7C551.1 361.6 552.2 365.4 553.4 372.0C554.5 378.6 554.5 386.1 556.3 394.2C558.1 402.3 562.4 411.0 564.4 420.4C566.4 429.8 567.3 441.1 568.4 450.7C569.5 460.2 570.2 470.3 570.9 477.7C571.6 485.1 572.6 490.3 572.7 495.3C572.9 500.3 572.8 504.5 571.8 507.7C570.8 510.9 567.5 512.4 566.5 514.7C565.5 517.1 565.3 519.3 565.6 521.8C565.9 524.3 566.7 527.9 568.2 529.7C569.7 531.5 573.4 532.0 574.4 532.4L574.4 532.4C579.9 532.0 600.8 530.6 607.1 529.7C613.4 528.8 610.6 529.0 612.4 527.1C614.2 525.2 616.8 519.8 617.7 518.3L617.7 518.3C619.1 516.1 625.2 510.0 626.0 505.0C626.8 500.0 623.2 491.0 622.6 488.2L622.6 488.2C622.4 486.4 621.8 483.3 621.2 477.7C620.6 472.1 620.0 463.2 618.9 454.7C617.8 446.2 616.5 436.6 614.8 426.5C613.1 416.4 610.7 403.3 608.8 394.2C606.9 385.1 604.9 378.6 603.3 372.0C601.6 365.4 601.0 361.6 598.9 354.7C596.8 347.8 593.4 337.9 590.8 330.5C588.2 323.1 585.2 315.0 583.5 310.0C581.8 305.0 581.4 303.6 580.4 300.4C579.4 297.2 577.9 292.5 577.4 290.9L577.4 290.9C577.2 291.1 577.6 291.5 576.4 292.4C575.2 293.3 572.6 295.6 570.4 296.4C568.2 297.2 566.2 297.7 563.3 297.4C560.3 297.1 556.6 295.8 552.7 294.4C548.8 293.0 543.9 291.0 540.1 289.3C536.3 287.6 533.8 286.3 530.0 284.3C526.2 282.3 519.3 278.3 517.2 277.1Z" fill="#000" stroke="#000" stroke-width="0.8" stroke-linejoin="round" stroke-linecap="round" />
<path d="M560.1 322.1C561.2 325.2 564.2 333.5 566.6 340.6C569.0 347.7 572.6 358.2 574.7 364.8C576.9 371.4 578.1 375.5 579.5 380.0C580.9 384.5 582.4 389.8 583.0 391.8" fill="none" stroke="#fff" stroke-width="2.0" stroke-linejoin="round" stroke-linecap="round" />
<path d="M586.6 409.3C587.4 413.5 590.2 426.7 591.6 434.6C593.0 442.5 594.0 450.2 594.7 456.8C595.4 463.4 595.5 471.2 595.6 474.1" fill="none" stroke="#fff" stroke-width="2.0" stroke-linejoin="round" stroke-linecap="round" />
<path d="M597.1 489.7L617.0 487.9L617.0 487.9C617.9 488.1 620.6 487.9 622.1 489.2C623.6 490.5 625.3 493.4 626.2 495.7C627.1 498.0 627.6 500.9 627.6 503.1C627.6 505.3 627.2 507.0 626.2 508.7C625.2 510.4 623.1 511.8 621.6 513.3C620.1 514.8 618.1 516.5 617.0 517.9C615.9 519.3 616.0 520.4 615.1 521.6C614.2 522.8 612.0 524.7 611.4 525.3L611.4 525.3L589.7 526.7L589.7 526.7C590.4 525.4 592.8 522.0 593.9 518.8C595.0 515.6 595.8 511.1 596.2 507.7C596.7 504.3 596.5 501.5 596.6 498.5C596.8 495.5 597.0 491.2 597.1 489.7Z" fill="#fff" stroke="#fff" stroke-width="0.5" stroke-linejoin="round" stroke-linecap="round" />
<path d="M617.0 487.9C617.9 488.1 620.6 487.9 622.1 489.2C623.6 490.5 625.3 493.4 626.2 495.7C627.1 498.0 627.6 500.9 627.6 503.1C627.6 505.3 627.2 507.0 626.2 508.7C625.2 510.4 623.1 511.8 621.6 513.3C620.1 514.8 617.8 517.1 617.0 517.9" fill="none" stroke="#888" stroke-width="0.7" stroke-linejoin="round" stroke-linecap="round" />
<path d="M599.9 490.2C599.8 491.8 599.6 497.1 599.4 500.0C599.2 502.9 598.9 504.4 598.5 507.7C598.1 511.0 598.3 516.7 597.1 519.7C595.9 522.7 592.4 524.8 591.5 525.8" fill="none" stroke="#2a2a2a" stroke-width="0.8" stroke-linejoin="round" stroke-linecap="round" />
<path d="M599.9 490.2C600.7 490.6 603.4 490.8 604.5 492.9C605.6 495.0 606.2 500.2 606.3 503.1C606.4 506.0 606.2 507.7 604.9 510.5C603.6 513.3 600.6 517.2 598.5 519.7C596.4 522.2 593.1 524.6 592.0 525.6" fill="none" stroke="#2a2a2a" stroke-width="0.8" stroke-linejoin="round" stroke-linecap="round" />
<ellipse cx="603.1" cy="502.6" rx="1.5" ry="2.0" fill="none" stroke="#2a2a2a" stroke-width="0.8"/>
<line x1="603.6" y1="498.5" x2="603.4" y2="506.5" stroke="#2a2a2a" stroke-width="0.6"/>
</g>
<g id="clip">
<path d="M677.7 507.7C677.6 506.4 678.6 505.8 681.4 505.5C684.2 505.2 690.7 504.9 694.4 505.9C698.1 506.9 700.2 509.5 703.6 511.4C707.0 513.2 710.7 515.0 714.7 517.0C718.7 519.0 724.1 521.2 727.6 523.4C731.1 525.5 733.9 527.3 735.9 529.9C737.9 532.5 739.1 536.8 739.6 539.1C740.1 541.4 740.1 542.8 738.7 543.8C737.3 544.8 734.4 545.6 731.3 545.1C728.2 544.6 724.5 542.6 720.2 541.0C715.9 539.4 709.7 537.4 705.4 535.4C701.1 533.4 697.2 531.1 694.4 529.0C691.6 526.9 689.6 524.4 688.8 522.5C688.0 520.6 690.8 519.4 689.7 517.9C688.6 516.4 684.3 515.0 682.3 513.3C680.3 511.6 677.9 509.0 677.7 507.7Z" fill="#fff" stroke="#2a2a2a" stroke-width="1.2" stroke-linejoin="round" stroke-linecap="round" />
<path d="M680.5 508.7C681.4 508.4 685.3 507.8 687.9 508.1C690.5 508.4 693.3 509.0 696.2 510.5C699.1 512.0 701.4 514.9 705.4 517.0C709.4 519.1 716.2 521.6 720.2 523.4C724.2 525.2 727.3 526.3 729.5 528.0C731.7 529.7 732.6 531.6 733.2 533.6C733.8 535.6 734.8 539.2 733.2 540.1C731.7 541.0 727.9 540.3 723.9 539.1C719.9 537.9 713.6 534.9 709.1 532.7C704.6 530.6 699.6 528.1 697.1 526.2C694.6 524.4 694.5 523.1 694.0 521.6C693.5 520.1 695.4 518.5 694.4 517.0C693.4 515.5 689.9 513.5 687.9 512.3C685.9 511.1 683.5 510.6 682.3 510.0C681.1 509.4 679.6 509.0 680.5 508.7Z" fill="#fff" stroke="#2a2a2a" stroke-width="1.1" stroke-linejoin="round" stroke-linecap="round" />
<path d="M686.5 505.6Q689 508.5 687.5 511.8" fill="none" stroke="#000" stroke-width="1.0" stroke-linejoin="round" stroke-linecap="round" />
</g>
<g id="labels">
<text x="119.0" y="18.8">A1-R1</text>
<text x="629.0" y="18.8">A1-R2</text>
<text x="0.6" y="170.0">A1-R4</text>
<text x="742.8" y="160.1">A1-R4</text>
<text x="26.6" y="273.6">A1-R6</text>
<text x="727.1" y="285.4">A1-R6</text>
<text x="188.4" y="354.5">A3-R3</text>
<text x="445.8" y="334.0">A2-R3</text>
<text x="357.2" y="589.4">A1-R5</text>
<text x="714.4" y="571.5">A2-R4</text>
</g>
</svg>
</body></html>
